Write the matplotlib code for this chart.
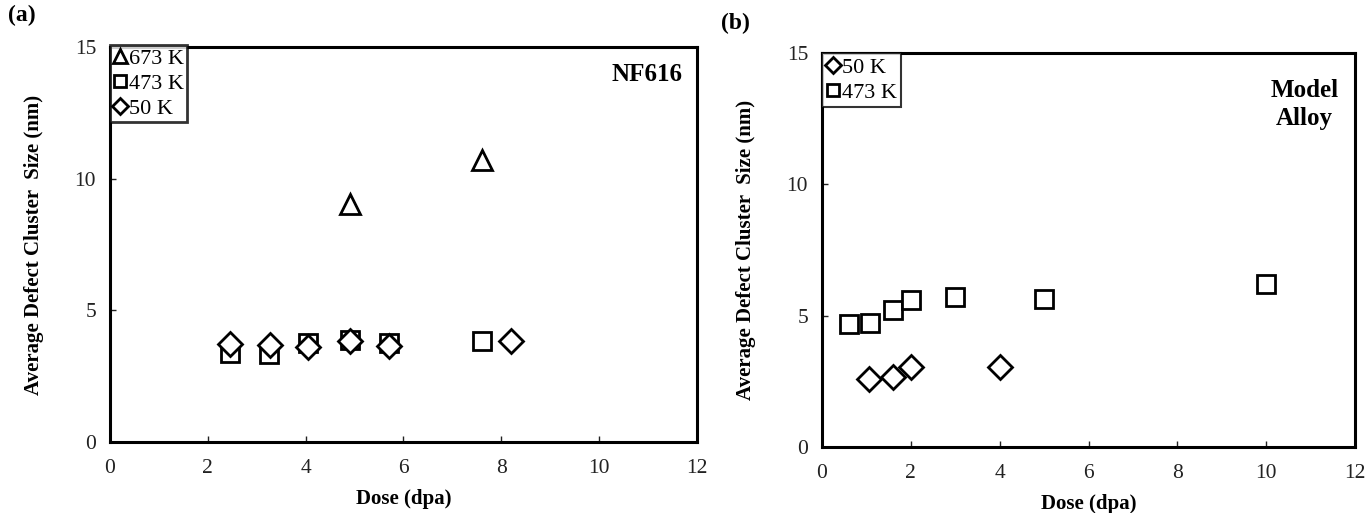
import matplotlib
matplotlib.use("Agg")
import matplotlib.pyplot as plt
from matplotlib.lines import Line2D

plt.rcParams['font.family'] = ['Liberation Serif', 'DejaVu Serif']

# Panel (a) NF616
a_673_x = [4.9, 7.6]
a_673_y = [9.05, 10.7]
a_473_x = [2.45, 3.25, 4.05, 4.9, 5.7, 7.6]
a_473_y = [3.38, 3.35, 3.75, 3.88, 3.75, 3.85]
a_50_x = [2.45, 3.27, 4.05, 4.9, 5.7, 8.2]
a_50_y = [3.72, 3.7, 3.62, 3.85, 3.65, 3.85]

# Panel (b) Model Alloy
b_50_x = [1.05, 1.6, 2.0, 4.0]
b_50_y = [2.6, 2.65, 3.05, 3.05]
b_473_x = [0.6, 1.08, 1.6, 2.0, 3.0, 5.0, 10.0]
b_473_y = [4.7, 4.72, 5.2, 5.6, 5.7, 5.65, 6.22]

xticks = [0, 2, 4, 6, 8, 10, 12]
yticks = [0, 5, 10, 15]
ylabel = "Average Defect Cluster  Size (nm)"
xlabel = "Dose (dpa)"

fig = plt.figure(figsize=(13.68, 5.13), dpi=100)
axa = fig.add_axes([0.0804, 0.1384, 0.4291, 0.7700])
axb = fig.add_axes([0.6009, 0.1287, 0.3896, 0.7680])

tri = dict(marker='^', ms=15, mfc='white', mec='black', mew=2, ls='none')
sq = dict(marker='s', ms=12.5, mfc='white', mec='black', mew=2, ls='none')
dia = dict(marker='D', ms=12, mfc='white', mec='black', mew=2, ls='none')

axa.plot(a_473_x, a_473_y, **sq)
axa.plot(a_50_x, a_50_y, **dia)
axa.plot(a_673_x, a_673_y, **tri)

axb.plot(b_473_x, b_473_y, **sq)
axb.plot(b_50_x, b_50_y, **dia)

for ax in (axa, axb):
    ax.set_xlim(0, 12)
    ax.set_ylim(0, 15)
    ax.set_xticks(xticks)
    ax.set_yticks(yticks)
    ax.tick_params(direction='in', length=4, width=1, labelsize=15.5, colors='#222222', pad=12)
    ax.tick_params(axis='y', pad=10)
    for s in ax.spines.values():
        s.set_linewidth(2.2)
        s.set_color('black')
    ax.set_xlabel(xlabel, fontsize=15, fontweight='bold', labelpad=8)
    ax.set_ylabel(ylabel, fontsize=15, fontweight='bold', labelpad=22)

# legends
def legend_handles(items):
    hs = []
    for m, ms in items:
        hs.append(Line2D([], [], marker=m, ms=ms, mfc='white', mec='black', mew=2, ls='none'))
    return hs

ha = legend_handles([('^', 10), ('s', 9), ('D', 8)])
la = axa.legend(ha, ['673 K', '473 K', '50 K'], loc='upper left', fontsize=16,
                frameon=True, fancybox=False, borderpad=0.15, handlelength=0.6,
                handletextpad=0.1, labelspacing=0.2, borderaxespad=0.0,
                bbox_to_anchor=(0.0, 1.005))
la.get_frame().set_edgecolor('black')
la.get_frame().set_linewidth(2)

hb = legend_handles([('D', 8), ('s', 9)])
lb = axb.legend(hb, ['50 K', '473 K'], loc='upper left', fontsize=16,
                frameon=True, fancybox=False, borderpad=0.2, handlelength=0.6,
                handletextpad=0.1, labelspacing=0.2, borderaxespad=0.0)
lb.get_frame().set_edgecolor('black')
lb.get_frame().set_linewidth(1.5)

axa.text(0.975, 0.93, "NF616", transform=axa.transAxes, ha='right', va='center',
         fontsize=18, fontweight='bold')
axb.text(0.905, 0.87, "Model\nAlloy", transform=axb.transAxes, ha='center', va='center',
         fontsize=18, fontweight='bold', linespacing=1.3)

fig.text(0.006, 0.97, "(a)", fontsize=17, fontweight='bold', ha='left', va='center')
fig.text(0.527, 0.955, "(b)", fontsize=17, fontweight='bold', ha='left', va='center')

fig.savefig("out.png", dpi=100)
